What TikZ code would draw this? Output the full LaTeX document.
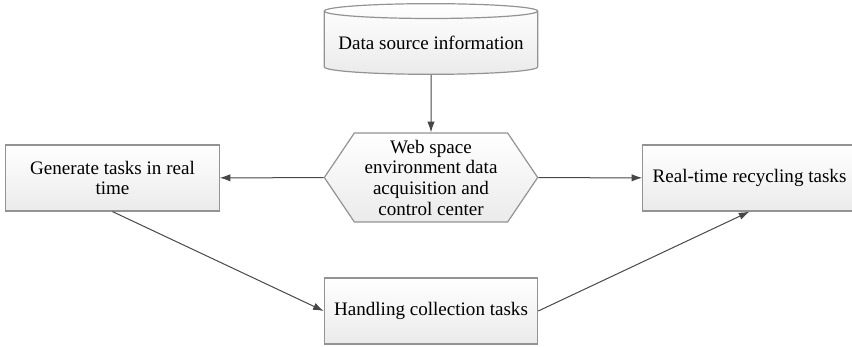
\documentclass[tikz,border=0pt]{standalone}
\usepackage{fontspec}
\setmainfont{Liberation Serif}
\usetikzlibrary{arrows.meta,shapes.geometric,shapes.symbols}

\begin{document}
\begin{tikzpicture}[x=0.75pt,y=-0.75pt,>={Latex[length=8pt,width=5.5pt]},
  every node/.style={font=\fontsize{14.3}{15.5}\selectfont,align=center,inner sep=0pt},
  task/.style={draw=gray!85,line width=0.9pt,top color=white,bottom color=black!8},
  link/.style={draw=black!72,line width=0.75pt,->}]
  \useasboundingbox (0,0) rectangle (852,346);

  \node[task,cylinder,shape border rotate=90,aspect=0.08,minimum width=160pt,minimum height=53pt] (source) at (431,43) {Data source information};
  \node[task,signal,signal to=west and east,signal pointer angle=112,minimum width=160pt,minimum height=66.75pt] (center) at (431,177.5) {Web space\\environment data\\acquisition and\\control center};
  \node[task,minimum width=160pt,minimum height=49.5pt] (generate) at (112.5,178) {Generate tasks in real\\time};
  \node[task,minimum width=160pt,minimum height=49.5pt] (recycle) at (749.5,178) {Real-time recycling tasks};
  \node[task,minimum width=160pt,minimum height=49.5pt] (handle) at (431,311) {Handling collection tasks};

  \draw[link] (source) -- (center);
  \draw[link] (center) -- (generate);
  \draw[link] (center) -- (recycle);
  \draw[link] (generate.south) -- (handle.west);
  \draw[link] (handle.east) -- (recycle.south);

\end{tikzpicture}
\end{document}
